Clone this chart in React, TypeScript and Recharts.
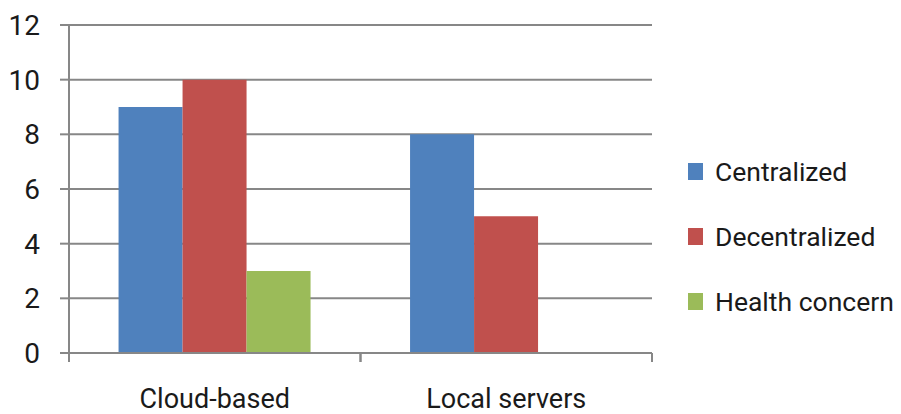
import React from "react"
import { Bar, BarChart, CartesianGrid, Legend, XAxis, YAxis } from "recharts"

const categories = ["Cloud-based", "Local servers"]
const centralized = [9, 8]
const decentralized = [10, 5]
const healthConcern = [3, 0]
const yTicks = [0, 2, 4, 6, 8, 10, 12]

const seriesNames = ["Centralized", "Decentralized", "Health concern"]
const colors = ["#4f81bd", "#c0504d", "#9bbb59"]

const data = categories.map((name, i) => ({
  name,
  centralized: centralized[i],
  decentralized: decentralized[i],
  health: healthConcern[i],
}))

const FONT = "Roboto, sans-serif"
const AXIS = "#878787"
const TEXT = "#1a1a1a"

// category label plus the little boundary ticks Excel draws between groups
const CategoryTick = (props: any) => {
  const { x, y, payload } = props
  const half = payload?.offset ?? 0
  return (
    <g>
      <line x1={x - half} y1={y} x2={x - half} y2={y + 9} stroke={AXIS} strokeWidth={2} />
      <line x1={x + half} y1={y} x2={x + half} y2={y + 9} stroke={AXIS} strokeWidth={2} />
      <text x={x} y={y + 55} textAnchor="middle" fontSize={27} fill={TEXT} fontFamily={FONT}>
        {payload.value}
      </text>
    </g>
  )
}

const LegendBox = () => (
  <div style={{ fontFamily: FONT, fontSize: 26.5, color: TEXT, whiteSpace: "nowrap" }}>
    {seriesNames.map((n, i) => (
      <div key={n} style={{ display: "flex", alignItems: "center", height: 65 }}>
        <span style={{ width: 15, height: 17, background: colors[i], marginRight: 12, display: "inline-block" }} />
        <span>{n}</span>
      </div>
    ))}
  </div>
)

export default function App() {
  return (
    <div style={{ position: "absolute", left: 0, top: 0, background: "#fff" }}>
      <BarChart
        width={901}
        height={414}
        data={data}
        margin={{ top: 25, right: 249, left: 0, bottom: 0 }}
        barCategoryGap="17%"
        barGap={0}
      >
        <CartesianGrid vertical={false} stroke={AXIS} strokeWidth={2} />
        <XAxis
          dataKey="name"
          height={61}
          tickLine={false}
          tickSize={0}
          tickMargin={0}
          axisLine={{ stroke: AXIS, strokeWidth: 2 }}
          tick={<CategoryTick />}
        />
        <YAxis
          width={69}
          domain={[0, 12]}
          ticks={yTicks}
          tickSize={9}
          tickMargin={20}
          axisLine={{ stroke: AXIS, strokeWidth: 2 }}
          tickLine={{ stroke: AXIS, strokeWidth: 2 }}
          tick={{ fontSize: 28, fill: TEXT, fontFamily: FONT }}
        />
        <Legend
          layout="vertical"
          align="center"
          verticalAlign="middle"
          wrapperStyle={{ left: 688, top: 139, width: 212 }}
          content={<LegendBox />}
        />
        <Bar dataKey="centralized" name={seriesNames[0]} fill={colors[0]} isAnimationActive={false} />
        <Bar dataKey="decentralized" name={seriesNames[1]} fill={colors[1]} isAnimationActive={false} />
        <Bar dataKey="health" name={seriesNames[2]} fill={colors[2]} isAnimationActive={false} />
      </BarChart>
    </div>
  )
}
